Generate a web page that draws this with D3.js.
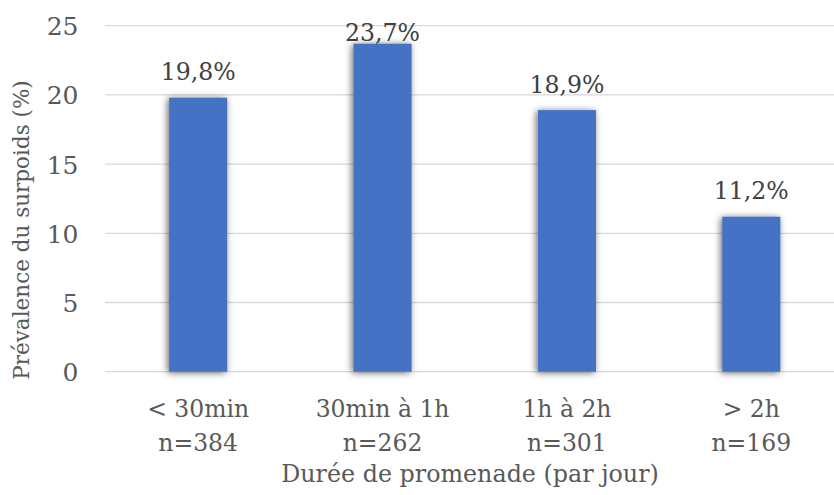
<!DOCTYPE html>
<html><head><meta charset="utf-8">
<script src="https://cdn.jsdelivr.net/npm/d3@7"></script>
<style>body{margin:0;background:#fff}svg{display:block}</style>
</head><body>
<svg id="c" width="834" height="495"></svg>
<script>
const categories = ["< 30min", "30min à 1h", "1h à 2h", "> 2h"];
const counts = ["n=384", "n=262", "n=301", "n=169"];
const values = [19.8, 23.7, 18.9, 11.2];
const valueLabels = ["19,8%", "23,7%", "18,9%", "11,2%"];
const yTicks = [0, 5, 10, 15, 20, 25];
const yTitle = "Prévalence du surpoids (%)";
const xTitle = "Durée de promenade (par jour)";

const font = "'DejaVu Serif', serif";
const txt = "#595959";
const svg = d3.select("#c");

const defs = svg.append("defs");
const f = defs.append("filter").attr("id","sh").attr("x","-40%").attr("y","-20%").attr("width","180%").attr("height","140%");
f.append("feDropShadow").attr("dx",-1.5).attr("dy",1).attr("stdDeviation",3.5).attr("flood-color","#000").attr("flood-opacity",0.6);

const x = d3.scaleBand().domain(categories).range([106, 843.5]).paddingInner(0.685).paddingOuter(0.3425);
const y = d3.scaleLinear().domain([0, 25]).range([371.7, 25.7]);

// gridlines
svg.append("g").selectAll("line").data(yTicks).join("line")
  .attr("x1", 105).attr("x2", 834)
  .attr("y1", d => y(d)).attr("y2", d => y(d))
  .attr("stroke", "#d9d9d9").attr("stroke-width", 1.3);

// y axis labels
const yAxis = d3.axisLeft(y).tickValues(yTicks).tickSize(0).tickPadding(0).tickFormat(d3.format("d"));
const ya = svg.append("g").attr("transform", "translate(78.5,0)").call(yAxis);
ya.select(".domain").remove();
ya.selectAll("text").attr("font-family", font).attr("font-size", 25).attr("fill", txt).attr("dy", "0.36em");

// bars
svg.append("g").selectAll("rect").data(values).join("rect")
  .attr("x", (d,i) => x(categories[i]))
  .attr("width", x.bandwidth())
  .attr("y", d => y(d))
  .attr("height", d => y(0) - y(d))
  .attr("fill", "#4472c4")
  .attr("filter", "url(#sh)");

// value labels
svg.append("g").selectAll("text").data(values).join("text")
  .attr("x", (d,i) => x(categories[i]) + x.bandwidth()/2)
  .attr("y", d => Math.max(y(d) - 17.5, y(25) + 15))
  .attr("text-anchor", "middle")
  .attr("font-family", font).attr("font-size", 23.6).attr("fill", "#404040")
  .text((d,i) => valueLabels[i]);

// x axis category labels
const xa = svg.append("g");
categories.forEach((c,i) => {
  const cx = x(c) + x.bandwidth()/2;
  const t = xa.append("text").attr("x", cx).attr("text-anchor","middle")
    .attr("font-family", font).attr("font-size", 23.5).attr("fill", txt);
  t.append("tspan").attr("x", cx).attr("y", 417).text(c);
  t.append("tspan").attr("x", cx).attr("y", 451).text(counts[i]);
});

// titles
svg.append("text").attr("x", 470).attr("y", 482).attr("text-anchor","middle")
  .attr("font-family", font).attr("font-size", 23.8).attr("fill", txt).text(xTitle);
svg.append("text").attr("transform", "translate(29,230) rotate(-90)").attr("text-anchor","middle")
  .attr("font-family", font).attr("font-size", 21.5).attr("fill", txt).text(yTitle);
</script>
</body></html>
